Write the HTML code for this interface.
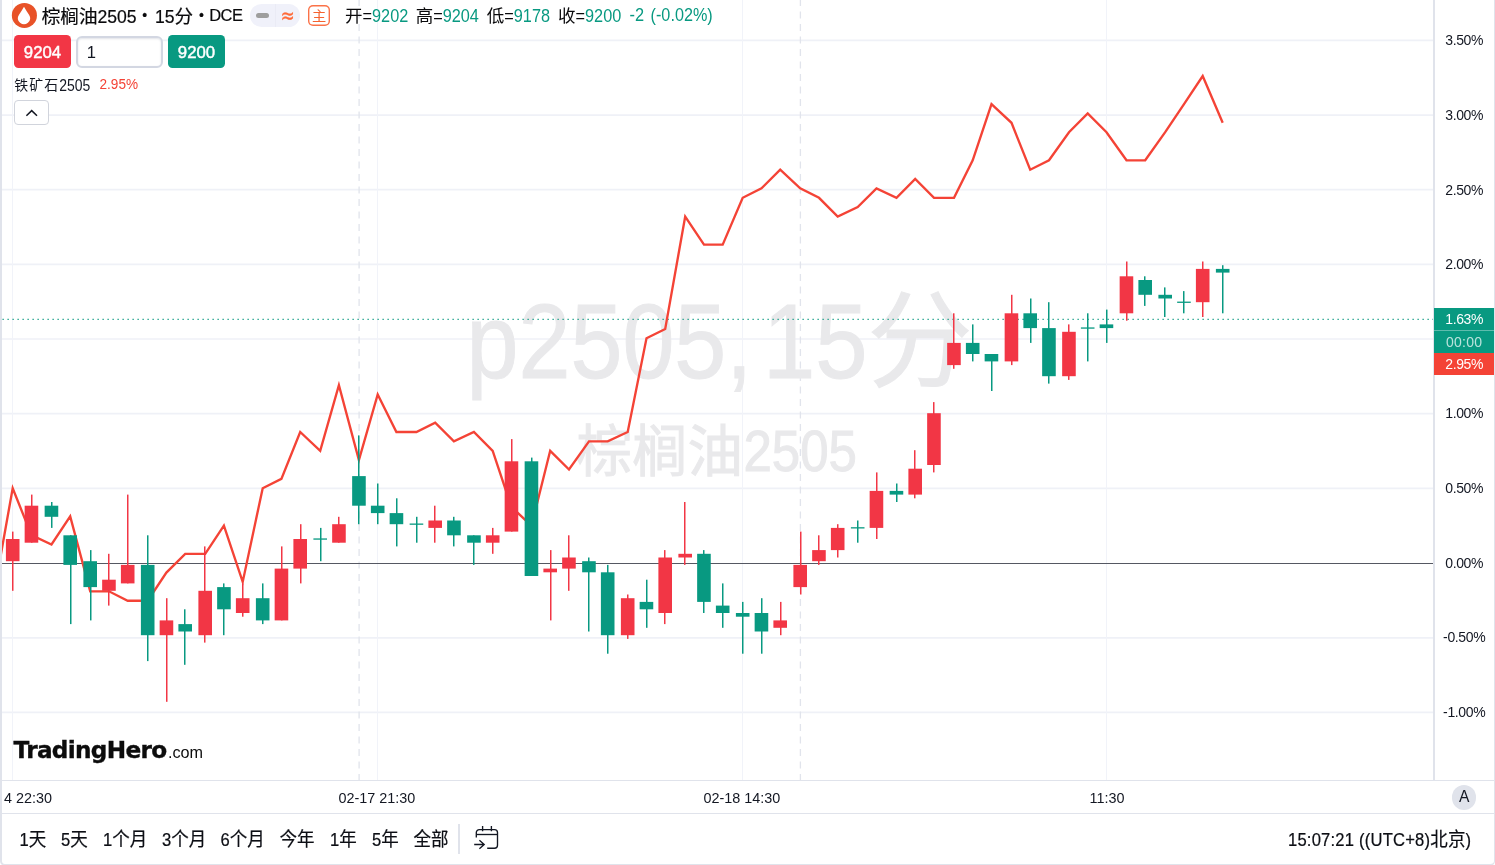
<!DOCTYPE html>
<html lang="zh-CN">
<head>
<meta charset="utf-8">
<title>棕榈油2505 · 15分 · DCE</title>
<style>
html,body{margin:0;padding:0;background:#fff;}
body{width:1495px;height:865px;overflow:hidden;position:relative;
 font-family:"Liberation Sans","Noto Sans CJK SC",sans-serif;color:#131722;}
#frame{position:absolute;left:0;top:-4px;width:1492px;height:868px;border-left:2px solid #e0e3eb;border-right:1px solid #e0e3eb;border-bottom:2px solid #e0e3eb;border-radius:0 0 5px 5px;box-sizing:content-box;}
.abs{position:absolute;white-space:nowrap;line-height:1;}
svg{position:absolute;left:0;top:0;}
.hl{position:absolute;background:#e0e3eb;}
.t{position:absolute;white-space:nowrap;line-height:20px;height:20px;}
.cj{font-family:"Noto Sans CJK SC","Liberation Sans",sans-serif;}
.g{color:#089981;}
.lg{color:#0a0a0c;}
.d{display:inline-block;transform:scaleY(1.09);transform-origin:0 73%;}
.d2{display:inline-block;transform:scaleY(1.13);transform-origin:0 73%;}
.tt{color:#0a0a0c;transform:scaleY(1.0);transform-origin:50% 55%;-webkit-text-stroke:.2px #0a0a0c;}
.ax{position:absolute;left:1434.2px;width:60px;font-size:14px;letter-spacing:-.36px;line-height:16px;height:16px;text-align:center;white-space:nowrap;color:#131722;}
.btn{position:absolute;top:35.4px;height:32.3px;border-radius:4.5px;color:#fff;font-size:16.8px;line-height:35.8px;text-align:center;-webkit-text-stroke:.45px #fff;}
.rng{position:absolute;top:828.3px;height:20px;line-height:20px;font-size:16.6px;white-space:nowrap;color:#0c0e14;-webkit-text-stroke:.2px #0c0e14;transform:scaleY(1.09);transform-origin:50% 55%;}
.rng .cj{font-size:17.5px;}
.tm{position:absolute;top:788px;height:20px;line-height:20px;font-size:14.4px;white-space:nowrap;}
</style>
</head>
<body>
<svg width="1495" height="865" viewBox="0 0 1495 865" shape-rendering="auto">
<g id="grid">
<line x1="2" y1="40.3" x2="1433" y2="40.3" stroke="#eff1f7" stroke-width="1.7"/>
<line x1="2" y1="115.1" x2="1433" y2="115.1" stroke="#eff1f7" stroke-width="1.7"/>
<line x1="2" y1="189.7" x2="1433" y2="189.7" stroke="#eff1f7" stroke-width="1.7"/>
<line x1="2" y1="264.3" x2="1433" y2="264.3" stroke="#eff1f7" stroke-width="1.7"/>
<line x1="2" y1="339.0" x2="1433" y2="339.0" stroke="#eff1f7" stroke-width="1.7"/>
<line x1="2" y1="413.7" x2="1433" y2="413.7" stroke="#eff1f7" stroke-width="1.7"/>
<line x1="2" y1="488.3" x2="1433" y2="488.3" stroke="#eff1f7" stroke-width="1.7"/>
<line x1="2" y1="637.8" x2="1433" y2="637.8" stroke="#eff1f7" stroke-width="1.7"/>
<line x1="2" y1="712.4" x2="1433" y2="712.4" stroke="#eff1f7" stroke-width="1.7"/>
<line x1="12.5" y1="0" x2="12.5" y2="780" stroke="#f1f3f9" stroke-width="1"/>
<line x1="377.5" y1="0" x2="377.5" y2="780" stroke="#f1f3f9" stroke-width="1"/>
<line x1="742.5" y1="0" x2="742.5" y2="780" stroke="#f1f3f9" stroke-width="1"/>
<line x1="1106.5" y1="0" x2="1106.5" y2="780" stroke="#f1f3f9" stroke-width="1"/>
<line x1="359.1" y1="0" x2="359.1" y2="780" stroke="#e1e4ec" stroke-width="1.3" stroke-dasharray="7 5.5" stroke-dashoffset="1"/>
<line x1="800.4" y1="0" x2="800.4" y2="780" stroke="#e1e4ec" stroke-width="1.3" stroke-dasharray="7 5.5" stroke-dashoffset="1"/>
</g>
<g id="watermark" fill="#e9e9eb" stroke="#e9e9eb" stroke-width="1" font-family="'Liberation Sans','Noto Sans CJK SC',sans-serif">
<text transform="translate(466.5 377.5) scale(.89 1)" font-size="105">p2505, </text>
<text transform="translate(763 377.5) scale(.895 1)" font-size="105">15</text>
<text transform="translate(867.5 377.5)" font-size="105">分</text>
<text transform="translate(576.5 470.5)" font-size="55.5">棕榈油</text>
<text transform="translate(743.5 470.5) scale(.895 1)" font-size="57">2505</text>
</g>
<g id="series">
<line x1="2" y1="563.5" x2="1433" y2="563.5" stroke="#555862" stroke-width="1"/>
<line x1="2.5" y1="319.4" x2="1433" y2="319.4" stroke="#089981" stroke-width="1.25" stroke-dasharray="1.25 3.75"/>
<polyline points="-6.5,596.0 12.7,488.2 31.4,535.1 51.5,544.5 70.2,516.4 90.2,591.3 109.0,591.3 127.7,600.7 147.7,600.7 166.4,572.6 185.2,553.8 205.2,553.8 223.9,525.7 242.7,581.9 262.7,488.2 281.4,478.9 300.2,432.0 320.2,450.8 338.9,385.2 358.9,460.1 377.7,394.5 396.4,432.0 416.4,432.0 435.2,422.7 453.9,441.4 473.9,432.0 492.7,450.8 511.4,507.0 531.5,525.7 550.2,450.8 569.0,469.5 589.0,441.4 607.7,441.4 627.7,432.0 646.5,338.3 665.2,329.0 685.2,216.5 704.0,244.6 722.7,244.6 742.7,197.8 761.5,188.4 780.2,169.7 800.2,188.4 819.0,197.8 837.7,216.5 857.7,207.1 876.5,188.4 896.5,197.8 915.2,179.0 934.0,197.8 954.0,197.8 972.7,160.3 991.5,104.1 1011.5,122.8 1030.2,169.7 1049.0,160.3 1069.0,132.2 1087.7,113.4 1106.5,132.2 1126.5,160.3 1145.2,160.3 1165.2,132.2 1184.0,104.1 1202.7,76.0 1222.7,122.8" fill="none" stroke="#f44336" stroke-width="2.35" stroke-linejoin="miter" stroke-linecap="butt"/>
<rect x="12.00" y="531.6" width="1.5" height="59.2" fill="#f23645"/>
<rect x="5.90" y="539.0" width="13.6" height="22.2" fill="#f23645"/>
<rect x="31.00" y="494.6" width="1.5" height="48.1" fill="#f23645"/>
<rect x="24.65" y="505.7" width="13.6" height="37.0" fill="#f23645"/>
<rect x="51.00" y="502.0" width="1.5" height="25.9" fill="#089981"/>
<rect x="44.65" y="505.7" width="13.6" height="11.1" fill="#089981"/>
<rect x="70.00" y="535.3" width="1.5" height="88.8" fill="#089981"/>
<rect x="63.40" y="535.3" width="13.6" height="29.6" fill="#089981"/>
<rect x="90.00" y="550.1" width="1.5" height="70.3" fill="#089981"/>
<rect x="83.40" y="561.2" width="13.6" height="25.9" fill="#089981"/>
<rect x="108.00" y="553.8" width="1.5" height="51.8" fill="#f23645"/>
<rect x="102.15" y="579.7" width="13.6" height="11.1" fill="#f23645"/>
<rect x="127.00" y="494.6" width="1.5" height="88.8" fill="#f23645"/>
<rect x="120.90" y="564.9" width="13.6" height="18.5" fill="#f23645"/>
<rect x="147.00" y="535.3" width="1.5" height="125.8" fill="#089981"/>
<rect x="140.90" y="564.9" width="13.6" height="70.3" fill="#089981"/>
<rect x="166.00" y="598.2" width="1.5" height="103.6" fill="#f23645"/>
<rect x="159.65" y="620.4" width="13.6" height="14.8" fill="#f23645"/>
<rect x="184.00" y="609.3" width="1.5" height="55.5" fill="#089981"/>
<rect x="178.40" y="624.1" width="13.6" height="7.4" fill="#089981"/>
<rect x="204.00" y="546.4" width="1.5" height="96.2" fill="#f23645"/>
<rect x="198.40" y="590.8" width="13.6" height="44.4" fill="#f23645"/>
<rect x="223.00" y="583.4" width="1.5" height="51.8" fill="#089981"/>
<rect x="217.15" y="587.1" width="13.6" height="22.2" fill="#089981"/>
<rect x="242.00" y="583.4" width="1.5" height="33.3" fill="#f23645"/>
<rect x="235.90" y="598.2" width="13.6" height="14.8" fill="#f23645"/>
<rect x="262.00" y="583.4" width="1.5" height="40.7" fill="#089981"/>
<rect x="255.90" y="598.2" width="13.6" height="22.2" fill="#089981"/>
<rect x="281.00" y="546.4" width="1.5" height="74.0" fill="#f23645"/>
<rect x="274.65" y="568.6" width="13.6" height="51.8" fill="#f23645"/>
<rect x="300.00" y="524.2" width="1.5" height="59.2" fill="#f23645"/>
<rect x="293.40" y="539.0" width="13.6" height="29.6" fill="#f23645"/>
<rect x="320.00" y="527.9" width="1.5" height="33.3" fill="#089981"/>
<rect x="313.40" y="538.4" width="13.6" height="1.3" fill="#089981"/>
<rect x="338.00" y="516.8" width="1.5" height="25.9" fill="#f23645"/>
<rect x="332.15" y="524.2" width="13.6" height="18.5" fill="#f23645"/>
<rect x="358.00" y="435.4" width="1.5" height="88.8" fill="#089981"/>
<rect x="352.15" y="476.1" width="13.6" height="29.6" fill="#089981"/>
<rect x="377.00" y="483.5" width="1.5" height="40.7" fill="#089981"/>
<rect x="370.90" y="505.7" width="13.6" height="7.4" fill="#089981"/>
<rect x="396.00" y="498.3" width="1.5" height="48.1" fill="#089981"/>
<rect x="389.65" y="513.1" width="13.6" height="11.1" fill="#089981"/>
<rect x="416.00" y="516.8" width="1.5" height="25.9" fill="#089981"/>
<rect x="409.65" y="523.5" width="13.6" height="1.3" fill="#089981"/>
<rect x="434.00" y="505.7" width="1.5" height="37.0" fill="#f23645"/>
<rect x="428.40" y="520.5" width="13.6" height="7.4" fill="#f23645"/>
<rect x="453.00" y="516.8" width="1.5" height="29.6" fill="#089981"/>
<rect x="447.15" y="520.5" width="13.6" height="14.8" fill="#089981"/>
<rect x="473.00" y="535.3" width="1.5" height="29.6" fill="#089981"/>
<rect x="467.15" y="535.3" width="13.6" height="7.4" fill="#089981"/>
<rect x="492.00" y="527.9" width="1.5" height="25.9" fill="#f23645"/>
<rect x="485.90" y="535.3" width="13.6" height="7.4" fill="#f23645"/>
<rect x="511.00" y="439.1" width="1.5" height="92.5" fill="#f23645"/>
<rect x="504.65" y="461.3" width="13.6" height="70.3" fill="#f23645"/>
<rect x="531.00" y="457.6" width="1.5" height="118.4" fill="#089981"/>
<rect x="524.65" y="461.3" width="13.6" height="114.7" fill="#089981"/>
<rect x="550.00" y="550.1" width="1.5" height="70.3" fill="#f23645"/>
<rect x="543.40" y="568.6" width="13.6" height="3.7" fill="#f23645"/>
<rect x="568.00" y="535.3" width="1.5" height="55.5" fill="#f23645"/>
<rect x="562.15" y="557.5" width="13.6" height="11.1" fill="#f23645"/>
<rect x="588.00" y="557.5" width="1.5" height="74.0" fill="#089981"/>
<rect x="582.15" y="561.2" width="13.6" height="11.1" fill="#089981"/>
<rect x="607.00" y="564.9" width="1.5" height="88.8" fill="#089981"/>
<rect x="600.90" y="572.3" width="13.6" height="62.9" fill="#089981"/>
<rect x="627.00" y="594.5" width="1.5" height="44.4" fill="#f23645"/>
<rect x="620.90" y="598.2" width="13.6" height="37.0" fill="#f23645"/>
<rect x="646.00" y="579.7" width="1.5" height="48.1" fill="#089981"/>
<rect x="639.65" y="601.9" width="13.6" height="7.4" fill="#089981"/>
<rect x="664.00" y="550.1" width="1.5" height="74.0" fill="#f23645"/>
<rect x="658.40" y="557.5" width="13.6" height="55.5" fill="#f23645"/>
<rect x="684.00" y="502.0" width="1.5" height="62.9" fill="#f23645"/>
<rect x="678.40" y="553.8" width="13.6" height="3.7" fill="#f23645"/>
<rect x="703.00" y="550.1" width="1.5" height="62.9" fill="#089981"/>
<rect x="697.15" y="553.8" width="13.6" height="48.1" fill="#089981"/>
<rect x="722.00" y="583.4" width="1.5" height="44.4" fill="#089981"/>
<rect x="715.90" y="605.6" width="13.6" height="7.4" fill="#089981"/>
<rect x="742.00" y="601.9" width="1.5" height="51.8" fill="#089981"/>
<rect x="735.90" y="613.0" width="13.6" height="3.7" fill="#089981"/>
<rect x="761.00" y="598.2" width="1.5" height="55.5" fill="#089981"/>
<rect x="754.65" y="613.0" width="13.6" height="18.5" fill="#089981"/>
<rect x="780.00" y="601.9" width="1.5" height="33.3" fill="#f23645"/>
<rect x="773.40" y="620.4" width="13.6" height="7.4" fill="#f23645"/>
<rect x="800.00" y="531.6" width="1.5" height="62.9" fill="#f23645"/>
<rect x="793.40" y="564.9" width="13.6" height="22.2" fill="#f23645"/>
<rect x="818.00" y="535.3" width="1.5" height="29.6" fill="#f23645"/>
<rect x="812.15" y="550.1" width="13.6" height="11.1" fill="#f23645"/>
<rect x="837.00" y="524.2" width="1.5" height="33.3" fill="#f23645"/>
<rect x="830.90" y="527.9" width="13.6" height="22.2" fill="#f23645"/>
<rect x="857.00" y="520.5" width="1.5" height="22.2" fill="#089981"/>
<rect x="850.90" y="527.2" width="13.6" height="1.3" fill="#089981"/>
<rect x="876.00" y="472.4" width="1.5" height="66.6" fill="#f23645"/>
<rect x="869.65" y="490.9" width="13.6" height="37.0" fill="#f23645"/>
<rect x="896.00" y="483.5" width="1.5" height="18.5" fill="#089981"/>
<rect x="889.65" y="490.9" width="13.6" height="3.7" fill="#089981"/>
<rect x="914.00" y="450.2" width="1.5" height="48.1" fill="#f23645"/>
<rect x="908.40" y="468.7" width="13.6" height="25.9" fill="#f23645"/>
<rect x="933.00" y="402.1" width="1.5" height="70.3" fill="#f23645"/>
<rect x="927.15" y="413.2" width="13.6" height="51.8" fill="#f23645"/>
<rect x="953.00" y="313.3" width="1.5" height="55.5" fill="#f23645"/>
<rect x="947.15" y="342.9" width="13.6" height="22.2" fill="#f23645"/>
<rect x="972.00" y="324.4" width="1.5" height="37.0" fill="#089981"/>
<rect x="965.90" y="342.9" width="13.6" height="11.1" fill="#089981"/>
<rect x="991.00" y="354.0" width="1.5" height="37.0" fill="#089981"/>
<rect x="984.65" y="354.0" width="13.6" height="7.4" fill="#089981"/>
<rect x="1011.00" y="294.8" width="1.5" height="70.3" fill="#f23645"/>
<rect x="1004.65" y="313.3" width="13.6" height="48.1" fill="#f23645"/>
<rect x="1030.00" y="298.5" width="1.5" height="44.4" fill="#089981"/>
<rect x="1023.40" y="313.3" width="13.6" height="14.8" fill="#089981"/>
<rect x="1048.00" y="302.2" width="1.5" height="81.4" fill="#089981"/>
<rect x="1042.15" y="328.1" width="13.6" height="48.1" fill="#089981"/>
<rect x="1068.00" y="324.4" width="1.5" height="55.5" fill="#f23645"/>
<rect x="1062.15" y="331.8" width="13.6" height="44.4" fill="#f23645"/>
<rect x="1087.00" y="313.3" width="1.5" height="48.1" fill="#089981"/>
<rect x="1080.90" y="327.4" width="13.6" height="1.3" fill="#089981"/>
<rect x="1106.00" y="309.6" width="1.5" height="33.3" fill="#089981"/>
<rect x="1099.65" y="324.4" width="13.6" height="3.7" fill="#089981"/>
<rect x="1126.00" y="261.5" width="1.5" height="59.2" fill="#f23645"/>
<rect x="1119.65" y="276.3" width="13.6" height="37.0" fill="#f23645"/>
<rect x="1144.00" y="276.3" width="1.5" height="29.6" fill="#089981"/>
<rect x="1138.40" y="280.0" width="13.6" height="14.8" fill="#089981"/>
<rect x="1164.00" y="287.4" width="1.5" height="29.6" fill="#089981"/>
<rect x="1158.40" y="294.8" width="13.6" height="3.7" fill="#089981"/>
<rect x="1183.00" y="291.1" width="1.5" height="22.2" fill="#089981"/>
<rect x="1177.15" y="301.6" width="13.6" height="1.3" fill="#089981"/>
<rect x="1202.00" y="261.5" width="1.5" height="55.5" fill="#f23645"/>
<rect x="1195.90" y="268.9" width="13.6" height="33.3" fill="#f23645"/>
<rect x="1222.00" y="265.2" width="1.5" height="48.1" fill="#089981"/>
<rect x="1215.90" y="268.9" width="13.6" height="3.7" fill="#089981"/>
</g>
</svg>

<!-- axis borders -->
<div class="hl" style="left:1433px;top:0;width:1.5px;height:781px;"></div>
<div class="hl" style="left:2px;top:780px;width:1492px;height:1px;"></div>
<div class="hl" style="left:2px;top:813px;width:1492px;height:1px;"></div>

<!-- price axis labels -->
<div class="ax" style="top:32.2px;">3.50%</div>
<div class="ax" style="top:106.9px;">3.00%</div>
<div class="ax" style="top:181.5px;">2.50%</div>
<div class="ax" style="top:256.1px;">2.00%</div>
<div class="ax" style="top:405.4px;">1.00%</div>
<div class="ax" style="top:480.1px;">0.50%</div>
<div class="ax" style="top:555.0px;">0.00%</div>
<div class="ax" style="top:629.4px;">-0.50%</div>
<div class="ax" style="top:704.1px;">-1.00%</div>

<div class="abs" style="left:1434px;top:308px;width:60px;height:45px;background:#089981;"></div>
<div class="abs" style="left:1434px;top:330px;width:60px;height:1px;background:rgba(255,255,255,.35);"></div>
<div class="abs" style="left:1434px;top:353px;width:60px;height:22.4px;background:#f44336;"></div>
<div class="ax" style="top:310.9px;color:#fff;">1.63%</div>
<div class="ax" style="top:333.5px;color:rgba(255,255,255,.72);letter-spacing:.3px;">00:00</div>
<div class="ax" style="top:356.2px;color:#fff;">2.95%</div>

<!-- legend row 1 -->
<svg width="40" height="32" viewBox="0 0 40 32" style="left:0;top:0;">
<circle cx="24.4" cy="15.45" r="12.55" fill="#e85228"/>
<path d="M24 6.8 Q21.9 10.6 18.85 14.9 A6.05 6.05 0 1 0 29.15 14.9 Q26.1 10.6 24 6.8 Z" fill="#fff"/>
</svg>
<div class="t tt" style="left:41.7px;top:4.8px;font-size:17.6px;"><span class="cj" style="font-size:18.6px;">棕榈油</span>2505</div>
<div class="t tt" style="left:139.6px;top:5.3px;font-size:14px;width:10px;text-align:center;">•</div>
<div class="t tt" style="left:155px;top:4.8px;font-size:17.6px;">15<span class="cj" style="font-size:18.6px;">分</span></div>
<div class="t tt" style="left:196.5px;top:5.3px;font-size:14px;width:10px;text-align:center;">•</div>
<div class="t tt" style="left:209.3px;top:4.8px;font-size:16.5px;letter-spacing:-.6px;">DCE</div>

<div class="abs" style="left:250px;top:4px;width:50px;height:22.5px;border-radius:11.5px;background:#f0f1fa;"></div>
<div class="abs" style="left:275px;top:4px;width:1px;height:22.5px;background:#eaebf5;"></div>
<div class="abs" style="left:256px;top:12.8px;width:12.8px;height:5.6px;border-radius:2.8px;background:#9e9e9e;"></div>
<div class="t" style="left:280px;top:5px;width:15px;text-align:center;font-size:17px;color:#ff6a39;-webkit-text-stroke:.2px #ff6a39;transform:scaleY(1.3);transform-origin:50% 54%;font-family:'DejaVu Sans','Liberation Sans',sans-serif;">≈</div>
<div class="abs" style="left:308.1px;top:4.9px;width:21.8px;height:21.1px;box-shadow:inset 0 0 0 1.4px #fb7248;border-radius:5px;"></div>
<div class="t cj" style="left:308px;top:5.4px;width:22px;text-align:center;font-size:14.2px;color:#f5622f;">主</div>

<div class="t lg" style="left:345px;top:5.3px;font-size:16.3px;"><span class="cj" style="font-size:17.5px;">开</span><span class="d">=<span class="g">9202</span></span></div>
<div class="t lg" style="left:415.7px;top:5.3px;font-size:16.3px;"><span class="cj" style="font-size:17.5px;">高</span><span class="d">=<span class="g">9204</span></span></div>
<div class="t lg" style="left:486.8px;top:5.3px;font-size:16.3px;"><span class="cj" style="font-size:17.5px;">低</span><span class="d">=<span class="g">9178</span></span></div>
<div class="t lg" style="left:558px;top:5.3px;font-size:16.3px;"><span class="cj" style="font-size:17.5px;">收</span><span class="d">=<span class="g">9200</span></span></div>
<div class="t g" style="left:629.5px;top:5.3px;font-size:16.4px;"><span class="d">-2</span></div>
<div class="t g" style="left:650.6px;top:5.3px;font-size:16.2px;"><span class="d">(-0.02%)</span></div>

<!-- legend row 2 -->
<div class="btn" style="left:14px;width:57px;background:#f23645;">9204</div>
<div class="abs" style="left:76px;top:35.5px;width:83px;height:28.5px;border:2px solid #d3d7e2;border-radius:6px;background:#fff;box-shadow:inset 0 1px 2px rgba(60,70,100,.15);"></div>
<div class="t" style="left:86.8px;top:42.6px;font-size:16.6px;">1</div>
<div class="btn" style="left:168px;width:57px;background:#089981;">9200</div>

<!-- legend row 3 -->
<div class="t" style="left:14.3px;top:74.6px;font-size:14px;"><span class="cj" style="font-size:13.9px;letter-spacing:1.05px;position:relative;top:-.6px;">铁矿石</span><span class="d2">2505</span></div>
<div class="t" style="left:99.5px;top:74.6px;font-size:13.6px;color:#f44336;"><span class="d2">2.95%</span></div>
<div class="abs" style="left:14px;top:100.1px;width:33px;height:23px;border:1px solid #d1d4dc;border-radius:4px;background:#fff;"></div>
<svg width="36" height="26" viewBox="0 0 36 26" style="left:14px;top:99.7px;"><path d="M12.4 15.8 L17.7 10.6 L23 15.8" fill="none" stroke="#131722" stroke-width="1.5"/></svg>

<!-- logo -->
<div class="abs" style="left:13.6px;top:734px;height:32px;line-height:32px;font-size:23.2px;font-weight:bold;letter-spacing:-.7px;color:#0c0c0c;-webkit-text-stroke:.35px #0c0c0c;font-family:'DejaVu Sans','Liberation Sans',sans-serif;">TradingHero<span style="font-size:16.2px;font-weight:normal;letter-spacing:0;-webkit-text-stroke:0;font-family:'Liberation Sans',sans-serif;margin-left:1.5px;">.com</span></div>

<!-- time axis -->
<div class="tm" style="left:4px;">4 22:30</div>
<div class="tm" style="left:338.5px;">02-17 21:30</div>
<div class="tm" style="left:703.5px;">02-18 14:30</div>
<div class="tm" style="left:1089.5px;">11:30</div>
<div class="abs" style="left:1451.6px;top:785px;width:24.5px;height:24.5px;border-radius:50%;background:#e0e3eb;"></div>
<div class="tm" style="left:1452px;top:786.6px;width:24.5px;text-align:center;font-size:15.6px;">A</div>

<!-- bottom toolbar -->
<div class="rng" style="left:19.5px;">1<span class="cj">天</span></div>
<div class="rng" style="left:61px;">5<span class="cj">天</span></div>
<div class="rng" style="left:103px;">1<span class="cj">个月</span></div>
<div class="rng" style="left:162px;">3<span class="cj">个月</span></div>
<div class="rng" style="left:220.5px;">6<span class="cj">个月</span></div>
<div class="rng" style="left:279.5px;"><span class="cj">今年</span></div>
<div class="rng" style="left:330px;">1<span class="cj">年</span></div>
<div class="rng" style="left:372px;">5<span class="cj">年</span></div>
<div class="rng" style="left:413.5px;"><span class="cj">全部</span></div>
<div class="hl" style="left:458px;top:824px;width:1.5px;height:30px;"></div>
<svg width="30" height="30" viewBox="0 0 30 30" style="left:472px;top:822px;">
<g fill="none" stroke="#131722" stroke-width="1.35">
<path d="M4.3 15.6 V10.6 a3 3 0 0 1 3 -3 H22.5 a3 3 0 0 1 3 3 V23.2 a3 3 0 0 1 -3 3 H15.2"/>
<path d="M4.3 12.5 H25.5"/>
<path d="M10.6 4.1 V9.3 M19.4 4.1 V9.3"/>
<path d="M2.2 22.5 H12 M7.4 18.3 L12.2 22.5 L7.4 26.8"/>
</g>
</svg>
<div class="rng" style="left:1288px;letter-spacing:.2px;">15:07:21 ((UTC+8)<span class="cj">北京</span>)</div>

<div id="frame"></div>
</body>
</html>
